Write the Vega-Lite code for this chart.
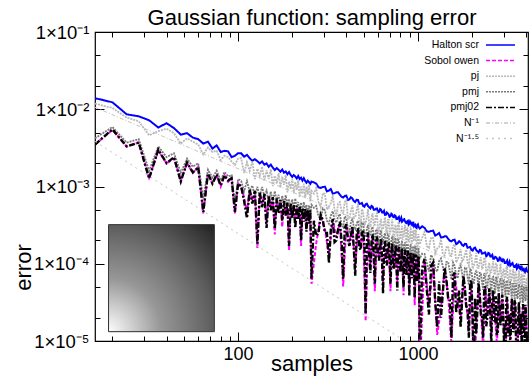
{
"$schema":"https://vega.github.io/schema/vega-lite/v6.json",
"width":433,"height":309,
"autosize":{"type":"none"},
"padding":{"left":95,"top":32,"right":3,"bottom":40},
"datasets":{
"w":[
{"n":16,"h":0.0139,"s":0.0035,"j":0.0118,"m":0.0042,"p":0.0035},
{"n":20,"h":0.0123,"s":0.0054,"j":0.0104,"m":0.0059,"p":0.0055},
{"n":24,"h":0.0086,"s":0.0033,"j":0.0078,"m":0.0037,"p":0.0033},
{"n":28,"h":0.0081,"s":0.0037,"j":0.0070,"m":0.0041,"p":0.0037},
{"n":32,"h":0.0072,"s":0.0013,"j":0.0046,"m":0.0016,"p":0.00127},
{"n":36,"h":0.0058,"s":0.0029,"j":0.0052,"m":0.0033,"p":0.0030},
{"n":40,"h":0.0066,"s":0.0020,"j":0.0056,"m":0.0024,"p":0.0020},
{"n":44,"h":0.0057,"s":0.0023,"j":0.0049,"m":0.0027,"p":0.0024},
{"n":48,"h":0.0047,"s":0.0012,"j":0.0036,"m":0.0015,"p":0.00116},
{"n":52,"h":0.0049,"s":0.0020,"j":0.0042,"m":0.0023,"p":0.00205},
{"n":56,"h":0.0043,"s":0.0015,"j":0.0038,"m":0.0018,"p":0.00152},
{"n":60,"h":0.0041,"s":0.0018,"j":0.0035,"m":0.0020,"p":0.00177},
{"n":64,"h":0.0036,"s":0.00045,"j":0.0026,"m":0.0007,"p":0.00047},
{"n":68,"h":0.0038,"s":0.00145,"j":0.0032,"m":0.00165,"p":0.00147},
{"n":72,"h":0.0031,"s":0.0011,"j":0.0028,"m":0.0013,"p":0.00109},
{"n":76,"h":0.0034,"s":0.0014,"j":0.0029,"m":0.0016,"p":0.00143},
{"n":80,"h":0.0028,"s":0.0010,"j":0.0022,"m":0.0012,"p":0.00103},
{"n":84,"h":0.0029,"s":0.0014,"j":0.0025,"m":0.00155,"p":0.00139},
{"n":88,"h":0.00285,"s":0.00115,"j":0.0024,"m":0.00135,"p":0.0012},
{"n":92,"h":0.0024,"s":0.0013,"j":0.0021,"m":0.0014,"p":0.00127},
{"n":96,"h":0.0025,"s":0.00045,"j":0.0019,"m":0.0006,"p":0.00047},
{"n":100,"h":0.0027,"s":0.0011,"j":0.0023,"m":0.00125,"p":0.00109},
{"n":104,"h":2.69e-3,"s":9.7e-4,"j":2.33e-3,"m":1.18e-3,"p":1.0e-3},
{"n":108,"h":2.43e-3,"s":7.2e-4,"j":1.5e-3,"m":8.7e-4,"p":6.5e-4},
{"n":112,"h":2.57e-3,"s":4.6e-4,"j":2.06e-3,"m":1.17e-3,"p":3.9e-4},
{"n":116,"h":2.32e-3,"s":8.9e-4,"j":1.59e-3,"m":8.6e-4,"p":9.2e-4},
{"n":120,"h":2.15e-3,"s":6.6e-4,"j":2.1e-3,"m":1.03e-3,"p":6.0e-4},
{"n":124,"h":2.26e-3,"s":8.5e-4,"j":1.25e-3,"m":7.3e-4,"p":8.8e-4},
{"n":128,"h":2.13e-3,"s":1.6e-4,"j":1.7e-3,"m":9.9e-4,"p":1.82e-4},
{"n":132,"h":1.99e-3,"s":8.1e-4,"j":1.35e-3,"m":7.3e-4,"p":8.4e-4},
{"n":136,"h":2.11e-3,"s":6.0e-4,"j":1.81e-3,"m":9.9e-4,"p":5.4e-4},
{"n":140,"h":1.92e-3,"s":7.8e-4,"j":1.18e-3,"m":7.4e-4,"p":8.0e-4},
{"n":144,"h":1.99e-3,"s":3.4e-4,"j":1.62e-3,"m":8.8e-4,"p":2.9e-4},
{"n":148,"h":1.80e-3,"s":7.4e-4,"j":1.26e-3,"m":6.3e-4,"p":7.6e-4},
{"n":152,"h":1.92e-3,"s":5.4e-4,"j":1.68e-3,"m":8.6e-4,"p":4.9e-4},
{"n":156,"h":1.75e-3,"s":7.1e-4,"j":1.01e-3,"m":6.4e-4,"p":7.3e-4},
{"n":160,"h":1.63e-3,"s":2.4e-4,"j":1.38e-3,"m":8.7e-4,"p":2.85e-4},
{"n":164,"h":1.73e-3,"s":6.8e-4,"j":1.09e-3,"m":6.5e-4,"p":7.0e-4},
{"n":168,"h":1.65e-3,"s":5.0e-4,"j":1.49e-3,"m":7.8e-4,"p":4.5e-4},
{"n":172,"h":1.55e-3,"s":6.5e-4,"j":9.7e-4,"m":5.5e-4,"p":6.7e-4},
{"n":176,"h":1.66e-3,"s":3.0e-4,"j":1.34e-3,"m":7.6e-4,"p":3.6e-4},
{"n":180,"h":1.51e-3,"s":6.3e-4,"j":1.05e-3,"m":5.7e-4,"p":6.5e-4},
{"n":184,"h":1.57e-3,"s":4.6e-4,"j":1.40e-3,"m":7.7e-4,"p":4.2e-4},
{"n":188,"h":1.44e-3,"s":6.0e-4,"j":8.4e-4,"m":5.8e-4,"p":6.2e-4},
{"n":192,"h":1.54e-3,"s":1.5e-4,"j":1.16e-3,"m":6.9e-4,"p":1.7e-4},
{"n":196,"h":1.41e-3,"s":5.8e-4,"j":9.2e-4,"m":5.0e-4,"p":6.0e-4},
{"n":200,"h":1.33e-3,"s":4.3e-4,"j":1.26e-3,"m":6.8e-4,"p":3.9e-4},
{"n":204,"h":1.41e-3,"s":5.6e-4,"j":8.2e-4,"m":5.1e-4,"p":5.8e-4},
{"n":208,"h":1.35e-3,"s":3.5e-4,"j":1.15e-3,"m":7.0e-4,"p":2.9e-4},
{"n":212,"h":1.27e-3,"s":5.4e-4,"j":9.0e-4,"m":5.2e-4,"p":5.6e-4},
{"n":216,"h":1.37e-3,"s":4.1e-4,"j":1.21e-3,"m":6.3e-4,"p":3.7e-4},
{"n":220,"h":1.25e-3,"s":5.3e-4,"j":7.3e-4,"m":4.5e-4,"p":5.5e-4},
{"n":224,"h":1.30e-3,"s":1.7e-4,"j":1.0e-3,"m":6.2e-4,"p":2.0e-4},
{"n":228,"h":1.19e-3,"s":5.1e-4,"j":8.0e-4,"m":4.6e-4,"p":5.3e-4},
{"n":232,"h":1.28e-3,"s":3.9e-4,"j":1.09e-3,"m":6.3e-4,"p":3.5e-4},
{"n":236,"h":1.18e-3,"s":4.9e-4,"j":7.1e-4,"m":4.8e-4,"p":5.1e-4},
{"n":240,"h":1.12e-3,"s":3.0e-4,"j":1.0e-3,"m":5.8e-4,"p":2.6e-4},
{"n":244,"h":1.19e-3,"s":4.8e-4,"j":7.9e-4,"m":4.1e-4,"p":5.0e-4},
{"n":248,"h":1.14e-3,"s":3.7e-4,"j":1.06e-3,"m":5.7e-4,"p":3.3e-4},
{"n":252,"h":1.08e-3,"s":4.7e-4,"j":6.4e-4,"m":4.3e-4,"p":4.9e-4},
{"n":256,"h":1.16e-3,"s":5.5e-5,"j":8.8e-4,"m":5.8e-4,"p":6.4e-5},
{"n":264,"h":1.13e-3,"j":8.1e-4,"m":5.3e-4,"p":3.6e-4},
{"n":272,"h":1.09e-3,"s":1.85e-4,"j":9.6e-4,"m":5.6e-4,"p":2.3e-4},
{"n":280,"h":9.75e-4,"j":6.3e-4,"m":4.1e-4,"p":2.5e-4},
{"n":288,"h":9.6e-4,"s":4.2e-4,"j":5.4e-4,"m":3.8e-4,"p":4.3e-4},
{"n":296,"h":9.83e-4,"j":8.2e-4,"m":5.2e-4,"p":3.7e-4},
{"n":304,"h":9.96e-4,"s":2.75e-4,"j":8.0e-4,"m":4.9e-4,"p":2.5e-4},
{"n":312,"h":8.62e-4,"j":5.0e-4,"m":3.6e-4,"p":2.5e-4},
{"n":320,"h":8.86e-4,"s":1.3e-4,"j":5.5e-4,"m":3.3e-4,"p":1.03e-4},
{"n":328,"h":9.28e-4,"j":6.1e-4,"m":4.2e-4,"p":2.8e-4},
{"n":336,"h":8.1e-4,"s":3.7e-4,"j":7.7e-4,"m":4.8e-4,"p":3.8e-4},
{"n":344,"h":8.19e-4,"j":5.0e-4,"m":3.7e-4,"p":1.9e-4},
{"n":352,"h":8.4e-4,"s":2.2e-4,"j":4.1e-4,"m":3.4e-4,"p":2.0e-4},
{"n":360,"h":8.41e-4,"j":6.0e-4,"m":4.1e-4,"p":2.8e-4},
{"n":368,"h":7.84e-4,"s":3.4e-4,"j":6.3e-4,"m":4.4e-4,"p":3.5e-4},
{"n":376,"h":7.37e-4,"j":4.8e-4,"m":3.2e-4,"p":2.0e-4},
{"n":384,"h":7.2e-4,"s":5.1e-5,"j":4.5e-4,"m":3.0e-4,"p":6.4e-5},
{"n":392,"h":7.54e-4,"j":6.3e-4,"m":4.1e-4,"p":2.9e-4},
{"n":400,"h":7.6e-4,"s":3.15e-4,"j":6.7e-4,"m":3.9e-4,"p":3.25e-4},
{"n":408,"h":6.68e-4,"j":3.9e-4,"m":2.8e-4,"p":2.0e-4},
{"n":416,"h":6.8e-4,"s":1.9e-4,"j":3.8e-4,"m":2.6e-4,"p":1.7e-4},
{"n":424,"h":7.27e-4,"j":4.8e-4,"m":3.4e-4,"p":2.3e-4},
{"n":432,"h":7.0e-4,"s":2.95e-4,"j":5.7e-4,"m":3.9e-4,"p":3.05e-4},
{"n":440,"h":6.49e-4,"j":4.0e-4,"m":3.0e-4,"p":1.57e-4},
{"n":448,"h":6.3e-4,"s":9.0e-5,"j":4.0e-4,"m":2.8e-4,"p":7.0e-5},
{"n":456,"h":6.72e-4,"j":4.8e-4,"m":3.3e-4,"p":2.3e-4},
{"n":464,"h":6.7e-4,"s":2.8e-4,"j":6.0e-4,"m":3.6e-4,"p":2.9e-4},
{"n":472,"h":5.95e-4,"j":3.8e-4,"m":2.7e-4,"p":1.63e-4},
{"n":480,"h":6.0e-4,"s":1.65e-4,"j":3.05e-4,"m":2.5e-4,"p":1.5e-4},
{"n":488,"h":6.12e-4,"j":5.1e-4,"m":3.4e-4,"p":2.45e-4},
{"n":496,"h":5.6e-4,"s":2.65e-4,"j":4.7e-4,"m":3.3e-4,"p":2.75e-4},
{"n":504,"h":5.47e-4,"j":3.2e-4,"m":2.4e-4,"p":1.68e-4},
{"n":512,"h":5.9e-4,"s":1.8e-5,"j":3.4e-4,"m":2.2e-4,"p":2.24e-5},
{"n":520,"h":5.99e-4,"j":4.0e-4,"m":2.8e-4,"p":1.89e-4},
{"n":528,"h":5.57e-4,"s":2.45e-4,"j":5.1e-4,"m":3.2e-4,"p":2.55e-4},
{"n":536,"h":5.38e-4,"j":3.3e-4,"m":2.5e-4,"p":1.3e-4},
{"n":544,"h":5.2e-4,"s":9.9e-5,"j":3.0e-4,"m":2.3e-4,"p":7.6e-5},
{"n":552,"h":5.61e-4,"j":4.0e-4,"m":2.8e-4,"p":1.9e-4},
{"n":560,"h":5.5e-4,"s":2.3e-4,"j":4.5e-4,"m":3.0e-4,"p":2.4e-4},
{"n":568,"h":4.99e-4,"j":3.2e-4,"m":2.2e-4,"p":1.35e-4},
{"n":576,"h":5.0e-4,"s":4.4e-5,"j":3.2e-4,"m":2.05e-4,"p":5.5e-5},
{"n":584,"h":5.16e-4,"j":4.3e-4,"m":2.8e-4,"p":2.0e-4},
{"n":592,"h":5.2e-4,"s":2.2e-4,"j":4.5e-4,"m":2.7e-4,"p":2.25e-4},
{"n":600,"h":4.64e-4,"j":2.7e-4,"m":2.0e-4,"p":1.39e-4},
{"n":608,"h":4.7e-4,"s":1.2e-4,"j":2.45e-4,"m":1.8e-4,"p":1.1e-4},
{"n":616,"h":5.11e-4,"j":3.4e-4,"m":2.35e-4,"p":1.58e-4},
{"n":624,"h":5.0e-4,"s":2.05e-4,"j":3.8e-4,"m":2.7e-4,"p":2.12e-4},
{"n":632,"h":4.61e-4,"j":2.8e-4,"m":2.1e-4,"p":1.09e-4},
{"n":640,"h":4.6e-4,"s":5.3e-5,"j":2.8e-4,"m":1.9e-4,"p":4.1e-5},
{"n":648,"h":4.83e-4,"j":3.45e-4,"m":2.3e-4,"p":1.59e-4},
{"n":656,"h":4.3e-4,"s":1.95e-4,"j":4.0e-4,"m":2.5e-4,"p":2.0e-4},
{"n":664,"h":4.31e-4,"j":2.8e-4,"m":1.86e-4,"p":1.14e-4},
{"n":672,"h":4.6e-4,"s":1.05e-4,"j":2.45e-4,"m":1.73e-4,"p":9.5e-5},
{"n":680,"h":4.48e-4,"j":3.7e-4,"m":2.4e-4,"p":1.71e-4},
{"n":688,"h":4.34e-4,"s":1.85e-4,"j":3.7e-4,"m":2.3e-4,"p":1.9e-4},
{"n":696,"h":4.04e-4,"j":2.4e-4,"m":1.67e-4,"p":1.18e-4},
{"n":704,"h":4.1e-4,"s":4.4e-5,"j":2.6e-4,"m":1.55e-4,"p":5.5e-5},
{"n":712,"h":4.45e-4,"j":2.95e-4,"m":2.0e-4,"p":1.34e-4},
{"n":720,"h":4.35e-4,"s":1.77e-4,"j":3.75e-4,"m":2.3e-4,"p":1.82e-4},
{"n":728,"h":4.03e-4,"j":2.5e-4,"m":1.78e-4,"p":9.4e-5},
{"n":736,"h":4.0e-4,"s":9.4e-5,"j":2.0e-4,"m":1.67e-4,"p":8.5e-5},
{"n":744,"h":4.23e-4,"j":3.0e-4,"m":2.0e-4,"p":1.37e-4},
{"n":752,"h":4.15e-4,"s":1.69e-4,"j":3.2e-4,"m":2.17e-4,"p":1.74e-4},
{"n":760,"h":3.79e-4,"j":2.45e-4,"m":1.6e-4,"p":9.8e-5},
{"n":768,"h":3.8e-4,"s":5.8e-5,"j":2.35e-4,"m":1.5e-4,"p":4.5e-5},
{"n":776,"h":3.95e-4,"j":3.3e-4,"m":2.05e-4,"p":1.49e-4},
{"n":784,"h":4.05e-4,"s":1.61e-4,"j":3.5e-4,"m":2.0e-4,"p":1.66e-4},
{"n":792,"h":3.57e-4,"j":2.1e-4,"m":1.45e-4,"p":1.03e-4},
{"n":800,"h":3.72e-4,"s":8.6e-5,"j":2.07e-4,"m":1.35e-4,"p":7.8e-5},
{"n":808,"h":3.94e-4,"j":2.6e-4,"m":1.75e-4,"p":1.17e-4},
{"n":816,"h":3.5e-4,"s":1.55e-4,"j":3.1e-4,"m":2.0e-4,"p":1.6e-4},
{"n":824,"h":3.58e-4,"j":2.2e-4,"m":1.56e-4,"p":8.2e-5},
{"n":832,"h":3.73e-4,"s":3.9e-5,"j":2.25e-4,"m":1.46e-4,"p":4.9e-5},
{"n":840,"h":3.77e-4,"j":2.7e-4,"m":1.76e-4,"p":1.2e-4},
{"n":848,"h":3.56e-4,"s":1.49e-4,"j":3.2e-4,"m":1.9e-4,"p":1.53e-4},
{"n":856,"h":3.39e-4,"j":2.2e-4,"m":1.41e-4,"p":8.6e-5},
{"n":864,"h":3.36e-4,"s":7.9e-5,"j":1.75e-4,"m":1.33e-4,"p":7.2e-5},
{"n":872,"h":3.54e-4,"j":2.95e-4,"m":1.82e-4,"p":1.31e-4},
{"n":880,"h":3.6e-4,"s":1.43e-4,"j":2.75e-4,"m":1.76e-4,"p":1.47e-4},
{"n":888,"h":3.21e-4,"j":1.9e-4,"m":1.28e-4,"p":9.1e-5},
{"n":896,"h":3.3e-4,"s":4.9e-5,"j":2.03e-4,"m":1.2e-4,"p":3.8e-5},
{"n":904,"h":3.55e-4,"j":2.35e-4,"m":1.55e-4,"p":1.04e-4},
{"n":912,"h":3.45e-4,"s":1.37e-4,"j":3.05e-4,"m":1.8e-4,"p":1.41e-4},
{"n":920,"h":3.23e-4,"j":2.0e-4,"m":1.38e-4,"p":7.3e-5},
{"n":928,"h":3.17e-4,"s":7.2e-5,"j":1.8e-4,"m":1.3e-4,"p":6.5e-5},
{"n":936,"h":3.4e-4,"j":2.4e-4,"m":1.57e-4,"p":1.07e-4},
{"n":944,"h":3.41e-4,"s":1.33e-4,"j":2.74e-4,"m":1.7e-4,"p":1.37e-4},
{"n":952,"h":3.06e-4,"j":2.0e-4,"m":1.26e-4,"p":7.7e-5},
{"n":960,"h":3.14e-4,"s":2.9e-5,"j":1.97e-4,"m":1.18e-4,"p":3.6e-5},
{"n":968,"h":3.2e-4,"j":2.7e-4,"m":1.63e-4,"p":1.17e-4},
{"n":976,"h":2.96e-4,"s":1.28e-4,"j":2.75e-4,"m":1.58e-4,"p":1.32e-4},
{"n":984,"h":2.91e-4,"j":1.7e-4,"m":1.15e-4,"p":8.1e-5},
{"n":992,"h":3.16e-4,"s":6.6e-5,"j":1.54e-4,"m":1.07e-4,"p":6.0e-5},
{"n":1000,"h":3.23e-4,"j":2.1e-4,"m":1.4e-4,"p":9.3e-5},
{"n":1008,"h":3.02e-4,"s":1.23e-4,"j":2.42e-4,"m":1.61e-4,"p":1.27e-4},
{"n":1016,"h":2.94e-4,"j":1.8e-4,"m":1.24e-4,"p":6.6e-5},
{"n":1024,"h":2.86e-4,"s":4e-6,"j":1.79e-4,"m":1.17e-4,"p":5e-6},
{"n":1056,"h":3.05e-4,"j":2.18e-4,"m":1.35e-4,"p":8.8e-5},
{"n":1088,"h":2.92e-4,"s":1.12e-4,"j":2.59e-4,"m":1.34e-4,"p":1.16e-4},
{"n":1120,"h":2.63e-4,"j":1.7e-4,"m":1.02e-4,"p":4.7e-5},
{"n":1152,"h":2.59e-4,"s":2.8e-5,"j":1.6e-4,"m":7.95e-5,"p":2.2e-5},
{"n":1184,"h":2.65e-4,"j":2.2e-4,"m":1.3e-4,"p":9.4e-5},
{"n":1216,"h":2.68e-4,"s":1.0e-4,"j":2.15e-4,"m":1.17e-4,"p":1.04e-4},
{"n":1248,"h":2.32e-4,"j":1.36e-4,"m":8.7e-5,"p":3.2e-5},
{"n":1280,"h":2.39e-4,"s":1.2e-5,"j":1.57e-4,"m":7.9e-5,"p":1.5e-5},
{"n":1312,"h":2.5e-4,"j":1.65e-4,"m":1.08e-4,"p":5.9e-5},
{"n":1344,"h":2.19e-4,"s":2.6e-5,"j":2.07e-4,"m":1.17e-4,"p":2.0e-5},
{"n":1376,"h":2.2e-4,"j":1.35e-4,"m":9.2e-5,"p":4.2e-5},
{"n":1408,"h":2.27e-4,"s":8.6e-5,"j":1.28e-4,"m":6.6e-5,"p":8.9e-5},
{"n":1440,"h":2.26e-4,"j":1.62e-4,"m":1.06e-4,"p":6.3e-5},
{"n":1472,"h":2.11e-4,"s":4.0e-5,"j":1.69e-4,"m":1.06e-4,"p":3.6e-5},
{"n":1504,"h":1.99e-4,"j":1.28e-4,"m":8.1e-5,"p":3.4e-5},
{"n":1536,"h":1.95e-4,"s":9e-6,"j":1.26e-4,"m":6.3e-5,"p":1.1e-5},
{"n":1568,"h":2.03e-4,"j":1.69e-4,"m":1.04e-4,"p":7.0e-5},
{"n":1600,"h":2.05e-4,"s":7.5e-5,"j":1.79e-4,"m":9.4e-5,"p":7.7e-5},
{"n":1632,"h":1.8e-4,"j":1.05e-4,"m":7.1e-5,"p":2.35e-5},
{"n":1664,"h":1.84e-4,"s":3.5e-5,"j":1.13e-4,"m":6.5e-5,"p":3.2e-5},
{"n":1696,"h":1.96e-4,"j":1.3e-4,"m":8.8e-5,"p":4.5e-5},
{"n":1728,"h":1.89e-4,"s":1.9e-5,"j":1.55e-4,"m":9.65e-5,"p":1.5e-5},
{"n":1760,"h":1.75e-4,"j":1.07e-4,"m":7.6e-5,"p":3.25e-5},
{"n":1792,"h":1.70e-4,"s":6.7e-5,"j":1.14e-4,"m":5.4e-5,"p":6.9e-5},
{"n":1824,"h":1.81e-4,"j":1.3e-4,"m":8.8e-5,"p":4.9e-5},
{"n":1856,"h":1.80e-4,"s":3.1e-5,"j":1.53e-4,"m":8.9e-5,"p":2.8e-5},
{"n":1888,"h":1.61e-4,"j":1.04e-4,"m":6.8e-5,"p":2.7e-5},
{"n":1920,"h":1.63e-4,"s":1.4e-5,"j":9.5e-5,"m":5.3e-5,"p":1.1e-5},
{"n":1952,"h":1.65e-4,"j":1.38e-4,"m":8.8e-5,"p":5.5e-5},
{"n":1984,"h":1.51e-4,"s":5.9e-5,"j":1.28e-4,"m":8.0e-5,"p":6.1e-5},
{"n":2016,"h":1.48e-4,"j":8.6e-5,"m":6.0e-5,"p":1.9e-5},
{"n":2048,"h":1.59e-4,"s":3e-6,"j":9.6e-5,"m":5.5e-5,"p":4e-6},
{"n":2080,"h":1.62e-4,"j":1.07e-4,"m":7.5e-5,"p":3.6e-5},
{"n":2112,"h":1.50e-4,"s":1.5e-5,"j":1.38e-4,"m":8.26e-5,"p":1.23e-5},
{"n":2144,"h":1.45e-4,"j":8.9e-5,"m":6.5e-5,"p":2.6e-5},
{"n":2176,"h":1.40e-4,"s":5.4e-5,"j":8.8e-5,"m":4.7e-5,"p":5.6e-5},
{"n":2208,"h":1.51e-4,"j":1.08e-4,"m":7.6e-5,"p":4.0e-5},
{"n":2240,"h":1.49e-4,"s":2.5e-5,"j":1.21e-4,"m":7.6e-5,"p":2.2e-5},
{"n":2272,"h":1.35e-4,"j":8.7e-5,"m":5.8e-5,"p":2.2e-5},
{"n":2304,"h":1.36e-4,"s":8e-6,"j":9.0e-5,"m":4.6e-5,"p":1.1e-5},
{"n":2336,"h":1.39e-4,"j":1.16e-4,"m":7.6e-5,"p":4.5e-5},
{"n":2368,"h":1.40e-4,"s":4.9e-5,"j":1.21e-4,"m":6.9e-5,"p":5.1e-5},
{"n":2400,"h":1.25e-4,"j":7.3e-5,"m":5.2e-5,"p":1.55e-5},
{"n":2432,"h":1.28e-4,"s":2.3e-5,"j":7.6e-5,"m":4.8e-5,"p":2.0e-5},
{"n":2464,"h":1.38e-4,"j":9.1e-5,"m":6.6e-5,"p":3.0e-5},
{"n":2496,"h":1.36e-4,"s":4.6e-5,"j":1.03e-4,"m":7.25e-5,"p":4.8e-5},
{"n":2528,"h":1.24e-4,"j":7.6e-5,"m":5.7e-5,"p":2.2e-5},
{"n":2560,"h":1.24e-4,"s":1.2e-5,"j":7.8e-5,"m":4.1e-5,"p":9e-6},
{"n":2592,"h":1.3e-4,"j":9.3e-5,"m":6.7e-5,"p":3.3e-5},
{"n":2624,"h":1.16e-4,"s":4.4e-5,"j":1.08e-4,"m":6.8e-5,"p":4.55e-5},
{"n":2656,"h":1.16e-4,"j":7.5e-5,"m":5.2e-5,"p":1.85e-5},
{"n":2688,"h":1.23e-4,"s":2.0e-5,"j":7.2e-5,"m":4.1e-5,"p":1.8e-5},
{"n":2720,"h":1.21e-4,"j":1.0e-4,"m":6.8e-5,"p":3.8e-5},
{"n":2752,"h":1.17e-4,"s":9e-6,"j":9.9e-5,"m":6.2e-5,"p":1.2e-5},
{"n":2784,"h":1.09e-4,"j":6.4e-5,"m":4.7e-5,"p":1.3e-5},
{"n":2816,"h":1.10e-4,"s":4.1e-5,"j":7.4e-5,"m":4.3e-5,"p":4.2e-5},
{"n":2848,"h":1.2e-4,"j":7.9e-5,"m":5.9e-5,"p":2.6e-5},
{"n":2880,"h":1.18e-4,"s":1.8e-5,"j":1.01e-4,"m":6.5e-5,"p":1.6e-5},
{"n":2912,"h":1.09e-4,"j":6.6e-5,"m":5.1e-5,"p":1.9e-5},
{"n":2944,"h":1.075e-4,"s":3.9e-5,"j":6.4e-5,"m":3.7e-5,"p":4.0e-5},
{"n":2976,"h":1.14e-4,"j":8.1e-5,"m":6.0e-5,"p":2.9e-5},
{"n":3008,"h":1.12e-4,"s":1.3e-5,"j":8.6e-5,"m":6.1e-5,"p":1.0e-5},
{"n":3040,"h":1.02e-4,"j":6.6e-5,"m":4.7e-5,"p":1.6e-5},
{"n":3072,"h":1.02e-4,"s":5e-6,"j":6.5e-5,"m":3.7e-5,"p":7e-6},
{"n":3104,"h":1.06e-4,"j":8.9e-5,"m":6.1e-5,"p":3.3e-5},
{"n":3136,"h":1.10e-4,"s":3.6e-5,"j":9.5e-5,"m":5.6e-5,"p":3.75e-5},
{"n":3168,"h":9.6e-5,"j":5.6e-5,"m":4.2e-5,"p":1.15e-5},
{"n":3200,"h":1.0e-4,"s":1.6e-5,"j":6.1e-5,"m":3.9e-5,"p":1.4e-5},
{"n":3232,"h":1.06e-4,"j":7.0e-5,"m":5.3e-5,"p":2.25e-5},
{"n":3264,"h":9.45e-5,"s":1.1e-5,"j":8.5e-5,"m":5.9e-5,"p":9e-6},
{"n":3296,"h":9.7e-5,"j":5.9e-5,"m":4.7e-5,"p":1.65e-5},
{"n":3328,"h":1.0e-4,"s":3.4e-5,"j":6.35e-5,"m":3.4e-5,"p":3.5e-5},
{"n":3360,"h":1.02e-4,"j":7.3e-5,"m":5.5e-5,"p":2.5e-5},
{"n":3392,"h":9.6e-5,"s":1.5e-5,"j":8.6e-5,"m":5.5e-5,"p":1.3e-5},
{"n":3424,"h":9.1e-5,"j":5.9e-5,"m":4.2e-5,"p":1.4e-5},
{"n":3456,"h":9.05e-5,"s":3.3e-5,"j":5.5e-5,"m":3.4e-5,"p":3.4e-5},
{"n":3488,"h":9.5e-5,"j":7.9e-5,"m":5.6e-5,"p":2.9e-5},
{"n":3520,"h":9.7e-5,"s":1.0e-5,"j":7.4e-5,"m":5.1e-5,"p":8e-6},
{"n":3552,"h":8.6e-5,"j":5.1e-5,"m":3.85e-5,"p":1.0e-5},
{"n":3584,"h":8.9e-5,"s":6e-6,"j":5.6e-5,"m":3.5e-5,"p":8e-6},
{"n":3616,"h":9.6e-5,"j":6.3e-5,"m":4.9e-5,"p":2.0e-5},
{"n":3648,"h":9.3e-5,"s":3.1e-5,"j":8.2e-5,"m":5.4e-5,"p":3.2e-5},
{"n":3680,"h":8.7e-5,"j":5.3e-5,"m":4.3e-5,"p":1.47e-5},
{"n":3712,"h":8.55e-5,"s":1.4e-5,"j":5.3e-5,"m":3.1e-5,"p":1.2e-5},
{"n":3744,"h":9.2e-5,"j":6.6e-5,"m":5.0e-5,"p":2.25e-5},
{"n":3776,"h":9.2e-5,"s":1.1e-5,"j":7.4e-5,"m":5.1e-5,"p":9e-6},
{"n":3808,"h":8.3e-5,"j":5.3e-5,"m":3.9e-5,"p":1.26e-5},
{"n":3840,"h":8.45e-5,"s":2.9e-5,"j":5.5e-5,"m":3.1e-5,"p":3.0e-5},
{"n":3872,"h":8.6e-5,"j":7.2e-5,"m":5.1e-5,"p":2.6e-5},
{"n":3904,"h":8.0e-5,"s":1.3e-5,"j":7.6e-5,"m":4.7e-5,"p":1.15e-5},
{"n":3936,"h":7.8e-5,"j":4.6e-5,"m":3.6e-5,"p":9e-6},
{"n":3968,"h":8.5e-5,"s":2.85e-5,"j":4.8e-5,"m":3.3e-5,"p":2.95e-5},
{"n":4000,"h":8.7e-5,"j":5.7e-5,"m":4.5e-5,"p":1.8e-5},
{"n":4032,"h":8.15e-5,"s":1.0e-5,"j":6.5e-5,"m":5.0e-5,"p":8e-6},
{"n":4064,"h":7.9e-5,"j":4.85e-5,"m":4.0e-5,"p":1.3e-5},
{"n":4096,"h":7.7e-5,"s":2e-6,"j":5.0e-5,"m":2.85e-5,"p":3e-6}
],
"r":[
{"k":"r1","n":16,"e":0.010625},{"k":"r1","n":4096,"e":4.15e-5},
{"k":"r15","n":16,"e":0.00384},{"k":"r15","n":4096,"e":9.4e-7}
]
},
"data":{"name":"w"},
"layer":[
{"data":{"values":[{"a":1}]},
 "mark":{"type":"rect","fill":{"gradient":"radial","x1":0,"y1":1,"r1":0,"x2":0,"y2":1,"r2":1.414,"stops":[{"offset":0,"color":"#ffffff"},{"offset":0.35,"color":"#979797"},{"offset":0.71,"color":"#5c5c5c"},{"offset":1,"color":"#202020"}]},"stroke":"#333333","strokeWidth":1},
 "encoding":{
  "x":{"datum":19.03,"type":"quantitative","scale":{"type":"log","domain":[16,4096],"nice":false},"axis":null},
  "x2":{"datum":73.8},
  "y":{"datum":0.000321,"type":"quantitative","scale":{"type":"log","domain":[0.00001,0.1],"nice":false},"axis":null},
  "y2":{"datum":0.0000132}
 }},
{"transform":[{"fold":["h","s","j","m","p"],"as":["k","e"]},{"filter":"datum.k=='h' && isValid(datum.e)"}],
 "mark":{"type":"line","clip":true,"strokeWidth":2},
 "encoding":{
  "x":{"field":"n","type":"quantitative","scale":{"type":"log","domain":[16,4096],"nice":false},
   "axis":{"orient":"bottom","values":[100,1000],"labelExpr":"datum.value==100?'100':'1000'","tickSize":-9,"tickColor":"#000","labelPadding":13,"domain":false,"grid":false,"labelFont":"Liberation Sans","labelFontSize":18,"labelColor":"#000","labelOverlap":false,"labelFlush":false,"title":"samples","titleFont":"Liberation Sans","titleFontSize":22,"titleFontWeight":"normal","titleColor":"#000","titleY":29,"titleBaseline":"alphabetic"}},
  "y":{"field":"e","type":"quantitative","scale":{"type":"log","domain":[0.00001,0.1],"nice":false},
   "axis":{"orient":"left","values":[0.1,0.01,0.001,0.0001,0.00001],"labelExpr":"datum.value>0.05?'1×10⁻¹':datum.value>0.005?'1×10⁻²':datum.value>0.0005?'1×10⁻³':datum.value>0.00005?'1×10⁻⁴':'1×10⁻⁵'","tickSize":-9,"tickColor":"#000","labelPadding":15,"domain":false,"grid":false,"labelFont":"Liberation Sans","labelFontSize":18.5,"labelColor":"#000","labelOverlap":false,"labelFlush":false,"title":"error","titleFont":"Liberation Sans","titleFontSize":22,"titleFontWeight":"normal","titleColor":"#000","titleX":-65,"titleY":235,"titleAngle":270,"titleAlign":"center","titleBaseline":"alphabetic"}},
  "color":{"field":"k","type":"nominal","scale":{"domain":["h","s","j","m","p","r1","r15"],"range":["#0000ff","#ff00ff","#b8b8b8","#7a7a7a","#000000","#c4c4c4","#c4c4c4"]},
   "legend":{"labelExpr":"datum.value=='h'?'Halton scr':datum.value=='s'?'Sobol owen':datum.value=='j'?'pj':datum.value=='m'?'pmj':datum.value=='p'?'pmj02':datum.value=='r1'?'N⁻¹':'N⁻¹·⁵'"}},
  "strokeDash":{"field":"k","type":"nominal","scale":{"domain":["h","s","j","m","p","r1","r15"],"range":[[1,0],[4,2],[2,1],[2,1],[6,2,2,2],[4,2,1,2],[2,4]]},
   "legend":{"labelExpr":"datum.value=='h'?'Halton scr':datum.value=='s'?'Sobol owen':datum.value=='j'?'pj':datum.value=='m'?'pmj':datum.value=='p'?'pmj02':datum.value=='r1'?'N⁻¹':'N⁻¹·⁵'"}}
 }},
{"transform":[{"fold":["h","s","j","m","p"],"as":["k","e"]},{"filter":"datum.k=='s' && isValid(datum.e)"}],
 "mark":{"type":"line","clip":true,"strokeWidth":2},
 "encoding":{
  "x":{"field":"n","type":"quantitative","scale":{"type":"log","domain":[16,4096],"nice":false},
   "axis":{"orient":"bottom","values":[20,30,40,50,60,70,80,90,200,300,400,500,600,700,800,900,2000,3000,4000],"labels":false,"tickSize":-5,"tickColor":"#000","domain":false,"grid":false,"title":null}},
  "y":{"field":"e","type":"quantitative","scale":{"type":"log","domain":[0.00001,0.1],"nice":false},
   "axis":{"orient":"left","values":[0.00002,0.00005,0.0002,0.0005,0.002,0.005,0.02,0.05],"labels":false,"tickSize":-5,"tickColor":"#000","domain":false,"grid":false,"title":null}},
  "color":{"field":"k","type":"nominal","scale":{"domain":["h","s","j","m","p","r1","r15"],"range":["#0000ff","#ff00ff","#b8b8b8","#7a7a7a","#000000","#c4c4c4","#c4c4c4"]}},
  "strokeDash":{"field":"k","type":"nominal","scale":{"domain":["h","s","j","m","p","r1","r15"],"range":[[1,0],[4,2],[2,1],[2,1],[6,2,2,2],[4,2,1,2],[2,4]]}}
 }},
{"transform":[{"fold":["h","s","j","m","p"],"as":["k","e"]},{"filter":"datum.k=='j' && isValid(datum.e)"}],
 "mark":{"type":"line","clip":true,"strokeWidth":1.8},
 "encoding":{
  "x":{"field":"n","type":"quantitative","scale":{"type":"log","domain":[16,4096],"nice":false},
   "axis":{"orient":"top","values":[100,1000],"labels":false,"tickSize":-9,"tickColor":"#000","domain":false,"grid":false,"title":"Gaussian function: sampling error","titleFont":"Liberation Sans","titleFontSize":22,"titleFontWeight":"normal","titleColor":"#000","titleX":216.5,"titleY":-8,"titleAlign":"center","titleBaseline":"alphabetic"}},
  "y":{"field":"e","type":"quantitative","scale":{"type":"log","domain":[0.00001,0.1],"nice":false},
   "axis":{"orient":"right","values":[0.1,0.01,0.001,0.0001,0.00001],"labels":false,"tickSize":-9,"tickColor":"#000","domain":false,"grid":false,"title":null}},
  "color":{"field":"k","type":"nominal","scale":{"domain":["h","s","j","m","p","r1","r15"],"range":["#0000ff","#ff00ff","#b8b8b8","#7a7a7a","#000000","#c4c4c4","#c4c4c4"]}},
  "strokeDash":{"field":"k","type":"nominal","scale":{"domain":["h","s","j","m","p","r1","r15"],"range":[[1,0],[4,2],[2,1],[2,1],[6,2,2,2],[4,2,1,2],[2,4]]}}
 }},
{"transform":[{"fold":["h","s","j","m","p"],"as":["k","e"]},{"filter":"datum.k=='m' && isValid(datum.e)"}],
 "mark":{"type":"line","clip":true,"strokeWidth":1.8},
 "encoding":{
  "x":{"field":"n","type":"quantitative","scale":{"type":"log","domain":[16,4096],"nice":false},
   "axis":{"orient":"top","values":[20,30,40,50,60,70,80,90,200,300,400,500,600,700,800,900,2000,3000,4000],"labels":false,"tickSize":-5,"tickColor":"#000","domain":false,"grid":false,"title":null}},
  "y":{"field":"e","type":"quantitative","scale":{"type":"log","domain":[0.00001,0.1],"nice":false},
   "axis":{"orient":"right","values":[0.00002,0.00005,0.0002,0.0005,0.002,0.005,0.02,0.05],"labels":false,"tickSize":-5,"tickColor":"#000","domain":false,"grid":false,"title":null}},
  "color":{"field":"k","type":"nominal","scale":{"domain":["h","s","j","m","p","r1","r15"],"range":["#0000ff","#ff00ff","#b8b8b8","#7a7a7a","#000000","#c4c4c4","#c4c4c4"]}},
  "strokeDash":{"field":"k","type":"nominal","scale":{"domain":["h","s","j","m","p","r1","r15"],"range":[[1,0],[4,2],[2,1],[2,1],[6,2,2,2],[4,2,1,2],[2,4]]}}
 }},
{"transform":[{"fold":["h","s","j","m","p"],"as":["k","e"]},{"filter":"datum.k=='p' && isValid(datum.e)"}],
 "mark":{"type":"line","clip":true,"strokeWidth":2.4},
 "encoding":{
  "x":{"field":"n","type":"quantitative","scale":{"type":"log","domain":[16,4096],"nice":false},"axis":null},
  "y":{"field":"e","type":"quantitative","scale":{"type":"log","domain":[0.00001,0.1],"nice":false},"axis":null},
  "color":{"field":"k","type":"nominal","scale":{"domain":["h","s","j","m","p","r1","r15"],"range":["#0000ff","#ff00ff","#b8b8b8","#7a7a7a","#000000","#c4c4c4","#c4c4c4"]}},
  "strokeDash":{"field":"k","type":"nominal","scale":{"domain":["h","s","j","m","p","r1","r15"],"range":[[1,0],[4,2],[2,1],[2,1],[6,2,2,2],[4,2,1,2],[2,4]]}}
 }},
{"data":{"name":"r"},
 "mark":{"type":"line","clip":true,"strokeWidth":1},
 "encoding":{
  "x":{"field":"n","type":"quantitative","scale":{"type":"log","domain":[16,4096],"nice":false},"axis":null},
  "y":{"field":"e","type":"quantitative","scale":{"type":"log","domain":[0.00001,0.1],"nice":false},"axis":null},
  "color":{"field":"k","type":"nominal","scale":{"domain":["h","s","j","m","p","r1","r15"],"range":["#0000ff","#ff00ff","#b8b8b8","#7a7a7a","#000000","#c4c4c4","#c4c4c4"]}},
  "strokeDash":{"field":"k","type":"nominal","scale":{"domain":["h","s","j","m","p","r1","r15"],"range":[[1,0],[4,2],[2,1],[2,1],[6,2,2,2],[4,2,1,2],[2,4]]}}
 }}
],
"resolve":{"axis":{"x":"independent","y":"independent"}},
"config":{
 "view":{"stroke":"#000000","strokeWidth":1.2},
 "font":"Liberation Sans",
 "legend":{"orient":"none","legendX":397.5,"legendY":5,"title":null,"direction":"vertical","symbolType":"M-2,0H2","symbolSize":210,"symbolStrokeWidth":1.5,"rowPadding":1.6,"labelAlign":"right","labelOffset":-29.5,"labelFontSize":10.5,"labelFont":"Liberation Sans","labelColor":"#000000","padding":0,"labelLimit":0}
}
}
